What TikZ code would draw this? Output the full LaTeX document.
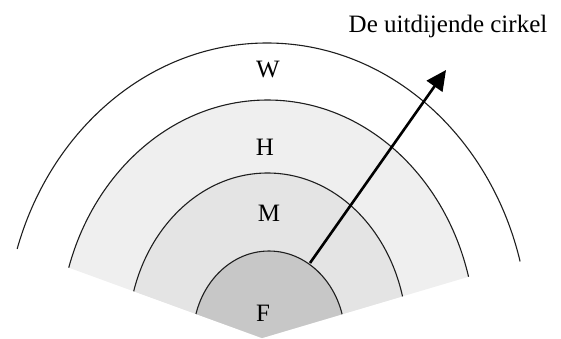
\documentclass[tikz,border=0pt]{standalone}
\usepackage{fontspec}
\setmainfont{Liberation Serif}
\usetikzlibrary{arrows.meta}
\definecolor{bandH}{RGB}{239,239,239}
\definecolor{bandM}{RGB}{228,228,228}
\definecolor{coreF}{RGB}{199,199,199}
\definecolor{arcline}{RGB}{30,30,30}
\tikzset{
  ring/.style={draw=arcline, line width=1.1pt},
  lbl/.style={font=\fontsize{25}{29}\selectfont, inner sep=0pt},
  ttl/.style={font=\fontsize{25}{29}\selectfont, inner sep=0pt},
  growarrow/.style={line width=2.6pt, -{Triangle[length=20pt,width=19pt]}}
}
\begin{document}
\begin{tikzpicture}[x=1pt,y=-1pt]
\useasboundingbox (0,0) rectangle (561,338);
\begin{scope}
  \clip (262,338) -- (-10,239) -- (-10,-10) -- (571,-10) -- (571,246.4) -- cycle;
  \fill[bandH] (267.5,338) ellipse [x radius=208, y radius=238];
  \fill[bandM] (267.5,338) ellipse [x radius=139.5, y radius=165];
  \fill[coreF] (269,338) ellipse [x radius=76, y radius=87];
  \draw[ring] (267,338) ellipse [x radius=262, y radius=295];
  \draw[ring] (267.5,338) ellipse [x radius=208, y radius=238];
  \draw[ring] (267.5,338) ellipse [x radius=139.5, y radius=165];
  \draw[ring] (269,338) ellipse [x radius=76, y radius=87];
\end{scope}
\node[lbl] (W) at (268,70) {W};
\node[lbl] (H) at (265,147) {H};
\node[lbl] (M) at (269,213) {M};
\node[lbl] (F) at (263,313) {F};
\node[ttl, anchor=base] (title) at (448,32) {De uitdijende cirkel};
\coordinate (arrowstart) at (310,263);
\coordinate (arrowtip) at (446,70);
\draw[growarrow] (arrowstart) -- (arrowtip);
\end{tikzpicture}
\end{document}
